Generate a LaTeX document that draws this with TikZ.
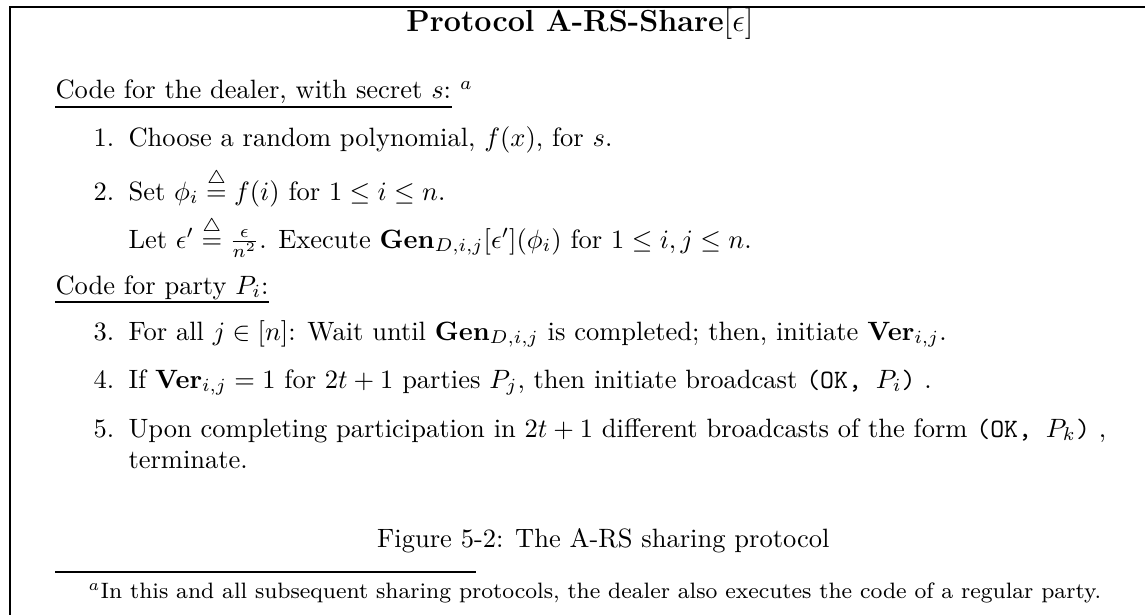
\documentclass[tikz,border=0pt]{standalone}
\usepackage{amsmath}
\usepackage{amssymb}
\usepackage{tikz}
\usetikzlibrary{calc,positioning}
\tikzset{textline/.style={draw=none, inner sep=0pt, anchor=base west, transform shape}}
\tikzset{
  boxedge/.style={black, line width=2.4pt},
  headrule/.style={black, line width=2pt}
}
\newcommand\defeq{\stackrel{\triangle}{=}}
\newcommand\gen{\mathbf{Gen}}
\newcommand\ver{\mathbf{Ver}}
\newcommand\okmsg[1]{\texttt{(OK,~}$#1$\texttt{)}}

\begin{document}
\begin{tikzpicture}[scale=2.65, x=0.37736pt, y=-0.37736pt]
\useasboundingbox (0,0) rectangle (1145,615);
\coordinate (boxbl) at (10,625);
\coordinate (boxtr) at (1160,7);
\draw[boxedge] (boxbl) |- (boxtr);

\node[textline, anchor=base](title) at (580,32)
{\fontsize{11.5}{14}\selectfont\textbf{Protocol A-RS-Share}$[\epsilon]$};

\node[textline](dealer) at (55,99)
{Code for the dealer, with secret $s$:};
\node[textline](dealmark) at ($(dealer.base east)+(8,0)$)
{$^a$};
\draw[headrule] ($(dealer.base west)+(0,8)$) -- ($(dealer.base east)+(0,8)$);

\node[textline](n1) at (93,147) {1.};
\node[textline](i1) at (128,147)
{Choose a random polynomial, $f(x)$, for $s$.};

\node[textline](n2) at (93,200) {2.};
\node[textline](i2) at (128,200)
{Set $\phi_i \defeq f(i)$ for $1 \le i \le n$.};
\node[textline](i2b) at (128,248)
{Let $\epsilon' \defeq \frac{\epsilon}{n^2}$. Execute $\gen_{D,i,j}[\epsilon'](\phi_i)$ for $1 \le i,j \le n$.};

\node[textline](party) at (55,294)
{Code for party $P_i$:};
\draw[headrule] ($(party.base west)+(0,8)$) -- ($(party.base east)+(0,8)$);

\node[textline](n3) at (93,340) {3.};
\node[textline](i3) at (128,340)
{For all $j \in [n]$: Wait until $\gen_{D,i,j}$ is completed; then, initiate $\ver_{i,j}$.};

\node[textline](n4) at (93,388) {4.};
\node[textline](i4) at (128,388)
{If $\ver_{i,j} = 1$ for $2t+1$ parties $P_j$, then initiate broadcast \okmsg{P_i}\ .};

\node[textline](n5) at (93,437) {5.};
\node[textline](i5) at (128,437)
{Upon completing participation in $2t+1$ different broadcasts of the form \okmsg{P_k}\ ,};
\node[textline](i5b) at (128,468)
{terminate.};

\node[textline, anchor=base east](caption) at (830,547)
{Figure 5-2: The A-RS sharing protocol};

\coordinate (fnl) at (55,572);
\coordinate (fnr) at (476,572);
\draw[headrule] (fnl) -- (fnr);
\node[textline](fnote) at (88,598)
{\fontsize{8.4}{10}\selectfont$^a$In this and all subsequent sharing protocols, the dealer also executes the code of a regular party.};
\end{tikzpicture}
\end{document}
